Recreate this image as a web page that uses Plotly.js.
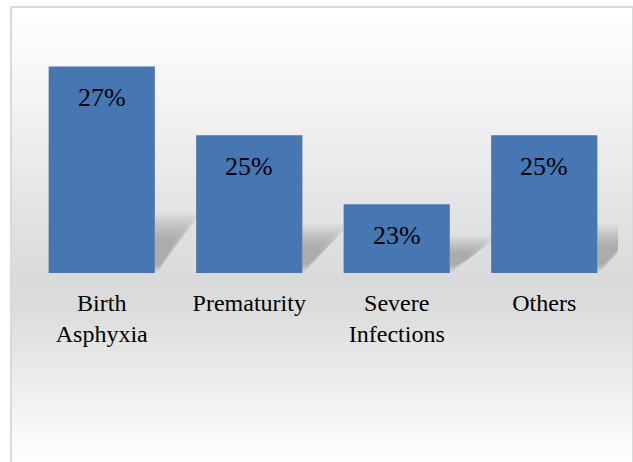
<!DOCTYPE html>
<html>
<head>
<meta charset="utf-8">
<script src="https://cdn.plot.ly/plotly-3.0.1.min.js"></script>
<style>
  html, body { margin: 0; padding: 0; width: 633px; height: 462px; overflow: hidden; background: #ffffff; }
  #frame {
    position: absolute; left: 10px; top: 6px; width: 620px; height: 470px;
    border: 2px solid #d9d9d9; border-right-width: 1px;
    background: linear-gradient(to bottom, #ffffff 0px, #f1f1f1 110px, #dadada 270px, #dcdcdc 300px, #ffffff 456px);
  }
  #chart { position: absolute; left: 0; top: 0; width: 633px; height: 462px; }
</style>
</head>
<body>
<div id="frame"></div>
<div id="chart"></div>
<script>
// Data
const categories = ["Birth<br>Asphyxia", "Prematurity", "Severe<br>Infections", "Others"];
const values = [27, 25, 23, 25];
const valueLabels = ["27%", "25%", "23%", "25%"];

const yMin = 21, yMax = 28;
const barGap = 0.28;
const halfW = (1 - barGap) / 2;
const pxPerY = 241.5 / (yMax - yMin);
const pxPerX = 589.2 / 4;
const serif = 'Liberation Serif';

// Soft shadows behind bars (decorative, derived from data)
const shapes = [];
values.forEach((v, i) => {
  const xr = i + halfW;
  const h = (v - yMin) * pxPerY;
  const n = 9;
  for (let k = 0; k < n; k++) {
    const t = k / (n - 1);               // 0 = outer, 1 = inner
    const top = (25 + 0.17 * h) - t * (12 + 0.06 * h);
    const w = 44 - t * 26;
    const yt = yMin + top / pxPerY;
    const yb = yMin + (1 + t * 8) / pxPerY;
    const xw = w / pxPerX;
    shapes.push({
      type: 'path', xref: 'x', yref: 'y', layer: 'below',
      path: `M ${xr},${yt} L ${xr + xw},${yt} L ${xr + xw},${yt - (3 + 5 * t) / pxPerY} L ${xr + (3 + t * 3) / pxPerX},${yb} L ${xr},${yb} Z`,
      fillcolor: '#666666', opacity: 0.05, line: {width: 0}
    });
  }
});

const annotations = values.map((v, i) => ({
  x: i, y: v, xref: 'x', yref: 'y', text: valueLabels[i],
  showarrow: false, yanchor: 'top', yshift: -15,
  font: {family: serif, size: 26, color: '#000000'}
}));

const trace = {
  type: 'bar',
  x: [0, 1, 2, 3],
  y: values.map(v => v - yMin),
  base: yMin,
  marker: {color: '#4677b3', line: {width: 0}},
  hoverinfo: 'none'
};

const layout = {
  width: 633, height: 462,
  margin: {l: 28, r: 15, t: 31.5, b: 189, pad: 0},
  paper_bgcolor: 'rgba(0,0,0,0)',
  plot_bgcolor: 'rgba(0,0,0,0)',
  bargap: barGap,
  showlegend: false,
  font: {family: serif},
  xaxis: {
    type: 'linear', range: [-0.5, 3.5],
    tickvals: [0, 1, 2, 3], ticktext: categories,
    showgrid: false, zeroline: false, showline: false, ticks: '',
    ticklabelstandoff: 13,
    tickfont: {family: serif, size: 24, color: '#000000'},
    fixedrange: true
  },
  yaxis: {
    range: [yMin, yMax], visible: false, showgrid: false, zeroline: false, fixedrange: true
  },
  shapes: shapes,
  annotations: annotations
};

Plotly.newPlot('chart', [trace], layout, {staticPlot: true, displayModeBar: false});
</script>
</body>
</html>
